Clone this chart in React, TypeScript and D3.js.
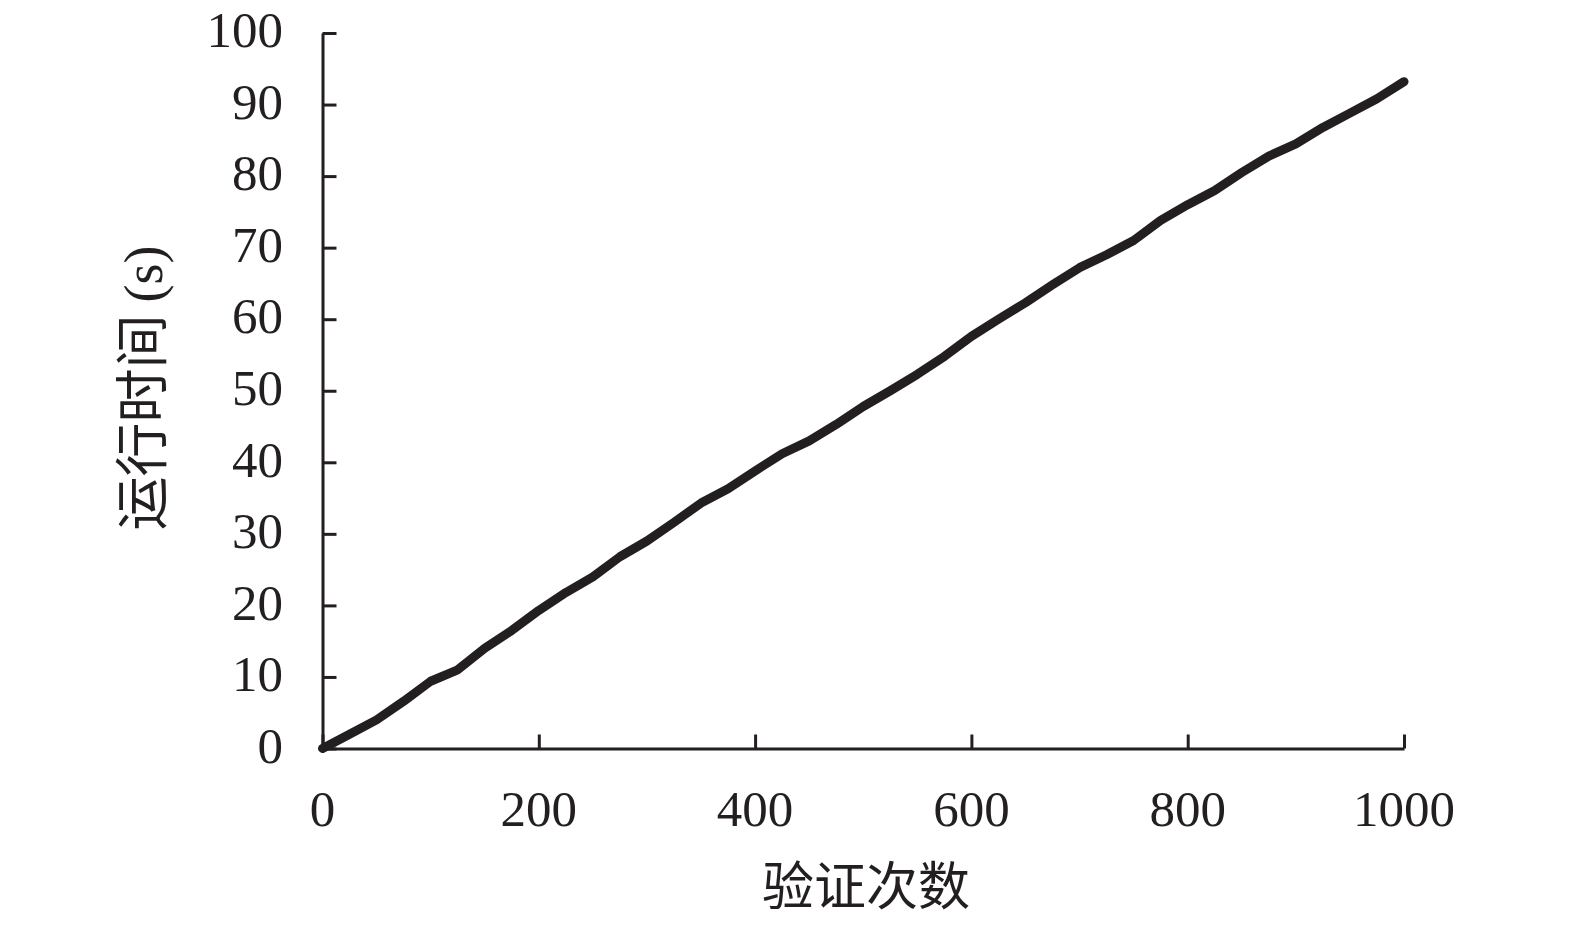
import * as d3 from "d3";
import { useEffect, useRef } from "react";

// 验证次数 (x) and 运行时间 in seconds (y)
const runs = [0, 25, 50, 75, 100, 125, 150, 175, 200, 225, 250, 275, 300, 325, 350, 375, 400, 425, 450, 475, 500, 525, 550, 575, 600, 625, 650, 675, 700, 725, 750, 775, 800, 825, 850, 875, 900, 925, 950, 975, 1000];
const seconds = [0, 2.0, 4.0, 6.6, 9.4, 11.0, 14.0, 16.5, 19.3, 21.8, 24.0, 26.8, 29.0, 31.6, 34.3, 36.3, 38.8, 41.2, 43.0, 45.3, 47.8, 50.0, 52.3, 54.8, 57.6, 60.0, 62.3, 64.8, 67.2, 69.0, 71.0, 73.8, 76.0, 78.0, 80.5, 82.8, 84.5, 86.8, 88.8, 90.8, 93.2];
const xTicks = [0, 200, 400, 600, 800, 1000];
const yTicks = [0, 10, 20, 30, 40, 50, 60, 70, 80, 90, 100];

const W = 1575;
const H = 925;
const ink = "#231f20";
const serif = "'Liberation Serif', 'Times New Roman', serif";
const cjk = "'Noto Sans CJK SC', sans-serif";

export default function App() {
  const ref = useRef<SVGSVGElement>(null);

  useEffect(() => {
    const svg = d3.select(ref.current);
    svg.selectAll("*").remove();

    const x = d3.scaleLinear().domain([0, 1000]).range([322.5, 1404]);
    const y = d3.scaleLinear().domain([0, 100]).range([748.5, 33]);

    // x axis, ticks pointing inward
    const gx = svg
      .append("g")
      .attr("transform", `translate(0,${y(0)})`)
      .call(
        d3
          .axisTop(x)
          .tickValues(xTicks)
          .tickSize(14)
          .tickSizeOuter(0)
          .tickFormat(() => "")
      );
    gx.select(".domain").attr("stroke", ink).attr("stroke-width", 3);
    gx.selectAll(".tick line").attr("stroke", ink).attr("stroke-width", 3);

    svg
      .append("g")
      .selectAll("text")
      .data(xTicks)
      .join("text")
      .attr("x", (d) => x(d))
      .attr("y", 826)
      .attr("text-anchor", "middle")
      .attr("font-family", serif)
      .attr("font-size", 51)
      .attr("fill", ink)
      .text((d) => d);

    // y axis, ticks pointing inward
    const gy = svg
      .append("g")
      .attr("transform", `translate(${x(0)},0)`)
      .call(
        d3
          .axisRight(y)
          .tickValues(yTicks)
          .tickSize(14)
          .tickSizeOuter(0)
          .tickFormat(() => "")
      );
    gy.select(".domain").attr("stroke", ink).attr("stroke-width", 3);
    gy.selectAll(".tick line").attr("stroke", ink).attr("stroke-width", 3);

    svg
      .append("g")
      .selectAll("text")
      .data(yTicks)
      .join("text")
      .attr("x", 283)
      .attr("y", (d) => y(d))
      .attr("dy", "0.28em")
      .attr("text-anchor", "end")
      .attr("font-family", serif)
      .attr("font-size", 51)
      .attr("fill", ink)
      .text((d) => d);

    // the series
    const pts: [number, number][] = runs.map((r, i) => [r, seconds[i]]);
    svg
      .append("path")
      .datum(pts)
      .attr("fill", "none")
      .attr("stroke", ink)
      .attr("stroke-width", 9)
      .attr("stroke-linejoin", "round")
      .attr("stroke-linecap", "round")
      .attr(
        "d",
        d3
          .line<[number, number]>()
          .x((d) => x(d[0]))
          .y((d) => y(d[1]))
      );

    // axis titles
    svg
      .append("text")
      .attr("x", 866)
      .attr("y", 905)
      .attr("text-anchor", "middle")
      .attr("font-family", cjk)
      .attr("font-size", 52)
      .attr("fill", ink)
      .text("验证次数");

    const yt = svg
      .append("text")
      .attr("transform", "translate(162,388) rotate(-90)")
      .attr("text-anchor", "middle")
      .attr("font-family", cjk)
      .attr("font-size", 54)
      .attr("fill", ink);
    yt.append("tspan").text("运行时间 ");
    yt.append("tspan").attr("font-family", serif).text("(s)");
  }, []);

  return (
    <svg
      ref={ref}
      width={W}
      height={H}
      style={{ position: "absolute", left: 0, top: 0, background: "#fff" }}
    />
  );
}
